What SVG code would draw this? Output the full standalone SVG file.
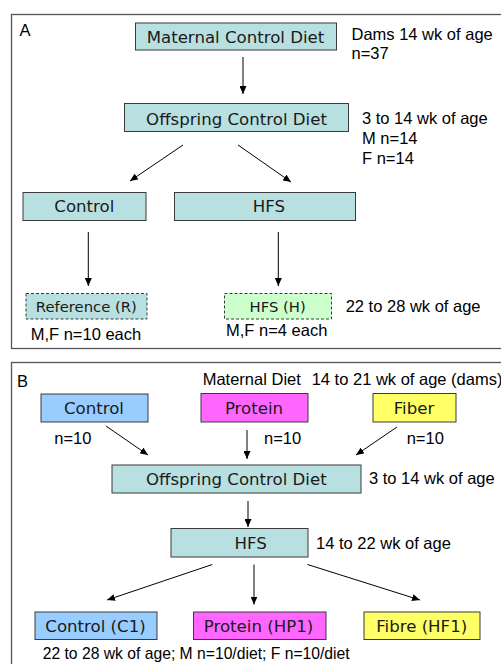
<svg xmlns="http://www.w3.org/2000/svg" width="501" height="664" viewBox="0 0 501 664">
<defs>
<marker id="ah" markerUnits="userSpaceOnUse" markerWidth="8" markerHeight="7" refX="8" refY="3.5" orient="auto">
<path d="M0,0 L8,3.5 L0,7 z" fill="#000"/>
</marker>
<style>
.frame{fill:#fff;stroke:#555;stroke-width:1.3}
.box{stroke:#3a3a3a;stroke-width:1}
.dash{stroke:#3a3a3a;stroke-width:1;stroke-dasharray:3,2}
.teal{fill:#b9e0e0}
.green{fill:#ccffcc}
.blue{fill:#99ccff}
.mag{fill:#ff66ff}
.yel{fill:#ffff66}
.bt{font-family:"DejaVu Sans",Verdana,sans-serif;font-size:16.6px;fill:#1a1a1a;text-anchor:middle}
.bs{font-family:"DejaVu Sans",Verdana,sans-serif;font-size:14.8px;fill:#1a1a1a;text-anchor:middle}
.lb{font-family:"Liberation Sans",Arial,sans-serif;font-size:16.5px;fill:#000}
.conn line{stroke:#000;stroke-width:1;marker-end:url(#ah)}
</style>
</defs>
<rect width="501" height="664" fill="#fff"/>
<rect class="frame" x="11.5" y="14.5" width="500" height="334"/>
<rect class="frame" x="11.5" y="362.5" width="500" height="320"/>
<text class="lb" x="19.5" y="35.5">A</text>
<text class="lb" x="17" y="387">B</text>

<g id="a-maternal"><rect class="box teal" x="135.5" y="23" width="201" height="27"/><text class="bt" x="235.5" y="43">Maternal Control Diet</text></g>
<g id="a-offspring"><rect class="box teal" x="124.5" y="103.5" width="224" height="28"/><text class="bt" x="236.5" y="125">Offspring Control Diet</text></g>
<g id="a-control"><rect class="box teal" x="23" y="192.5" width="123" height="28"/><text class="bt" x="84.3" y="212">Control</text></g>
<g id="a-hfs"><rect class="box teal" x="174.5" y="192.5" width="181" height="28"/><text class="bt" x="269" y="212">HFS</text></g>
<g id="a-reference"><rect class="dash teal" x="26" y="293.5" width="121" height="25.5"/><text class="bs" x="86.3" y="311.5">Reference (R)</text></g>
<g id="a-hfsh"><rect class="dash green" x="224.5" y="293.5" width="107" height="25.5"/><text class="bs" x="277.7" y="311.5">HFS (H)</text></g>

<text class="lb" x="351.5" y="39.5">Dams 14 wk of age</text>
<text class="lb" x="351.5" y="59">n=37</text>
<text class="lb" x="362" y="123.5">3 to 14 wk of age</text>
<text class="lb" x="362" y="144">M n=14</text>
<text class="lb" x="362" y="164">F n=14</text>
<text class="lb" x="345.7" y="311.5">22 to 28 wk of age</text>
<text class="lb" x="30.7" y="340">M,F n=10 each</text>
<text class="lb" x="226" y="336">M,F n=4 each</text>

<g id="b-control"><rect class="box blue" x="41" y="394" width="107" height="28"/><text class="bt" x="94" y="414">Control</text></g>
<g id="b-protein"><rect class="box mag" x="201" y="393.5" width="107" height="28.5"/><text class="bt" x="254" y="414">Protein</text></g>
<g id="b-fiber"><rect class="box yel" x="373" y="393.5" width="83" height="28.5"/><text class="bt" x="414" y="414">Fiber</text></g>
<g id="b-offspring"><rect class="box teal" x="112" y="465" width="249" height="28"/><text class="bt" x="236.3" y="485">Offspring Control Diet</text></g>
<g id="b-hfs"><rect class="box teal" x="171" y="528.5" width="137" height="28.5"/><text class="bt" x="250.7" y="548.5">HFS</text></g>
<g id="b-c1"><rect class="box blue" x="35" y="612" width="122" height="27.5"/><text class="bt" x="95.5" y="631.5">Control (C1)</text></g>
<g id="b-hp1"><rect class="box mag" x="193.5" y="612" width="132.5" height="27.5"/><text class="bt" x="258.5" y="631.5">Protein (HP1)</text></g>
<g id="b-hf1"><rect class="box yel" x="364" y="612" width="116" height="27.5"/><text class="bt" x="421.7" y="631.5">Fibre (HF1)</text></g>

<text class="lb" x="202.7" y="385">Maternal Diet</text>
<text class="lb" x="311.7" y="385">14 to 21 wk of age (dams)</text>
<text class="lb" x="54.3" y="444">n=10</text>
<text class="lb" x="264" y="444">n=10</text>
<text class="lb" x="406.7" y="444">n=10</text>
<text class="lb" x="369" y="484">3 to 14 wk of age</text>
<text class="lb" x="316" y="548.5">14 to 22 wk of age</text>
<text class="lb" x="42.7" y="659" style="font-size:15.7px">22 to 28 wk of age; M n=10/diet; F n=10/diet</text>

<g id="connectors" class="conn">
<line x1="243" y1="57" x2="243" y2="94"/>
<line x1="183" y1="145" x2="130" y2="181"/>
<line x1="238" y1="145" x2="291" y2="182"/>
<line x1="88.3" y1="232" x2="88.3" y2="286"/>
<line x1="278.3" y1="232" x2="278.3" y2="286"/>
<line x1="106" y1="426" x2="148" y2="455"/>
<line x1="247" y1="430" x2="247" y2="459"/>
<line x1="397" y1="427" x2="356" y2="455"/>
<line x1="248" y1="501" x2="248" y2="527"/>
<line x1="212.3" y1="564.5" x2="107" y2="600"/>
<line x1="254" y1="564.5" x2="254" y2="604.5"/>
<line x1="307.5" y1="564.5" x2="420" y2="600"/>
</g>
</svg>
